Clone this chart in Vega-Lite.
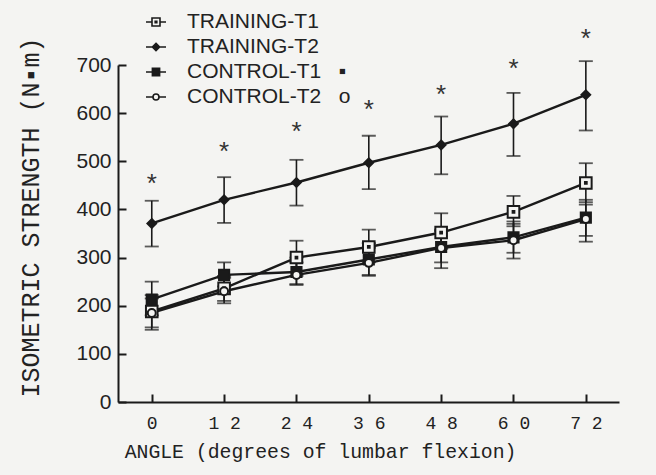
{
  "$schema": "https://vega.github.io/schema/vega-lite/v6.json",
  "autosize": {"type": "none"},
  "padding": {"left": 118, "top": 65, "right": 37, "bottom": 73},
  "width": 501,
  "height": 337,
  "background": "#f4f4f2",
  "config": {
    "view": {"stroke": null},
    "axis": {
      "domainColor": "#1a1a1a", "domainWidth": 2,
      "tickColor": "#1a1a1a", "tickWidth": 2, "tickSize": -8,
      "grid": false, "labelColor": "#222", "titleColor": "#222",
      "titleFontWeight": "normal"
    },
    "axisY": {
      "labelFont": "Liberation Sans", "labelFontSize": 21, "labelPadding": 15,
      "titleFont": "Liberation Mono", "titleFontSize": 25, "titlePadding": 32, "tickCount": 7
    },
    "axisX": {
      "labelFont": "Liberation Mono", "labelFontSize": 18, "labelPadding": 20,
      "titleFont": "Liberation Mono", "titleFontSize": 19.8, "titlePadding": 9
    }
  },
  "resolve": {
    "scale": {"shape": "independent", "fill": "independent", "stroke": "independent"},
    "legend": {"shape": "independent", "fill": "independent", "stroke": "independent"}
  },
  "datasets": {
    "main": [
      {"series": "TRAINING-T1", "angle": 0, "mean": 188, "lo": 155, "hi": 222},
      {"series": "TRAINING-T1", "angle": 12, "mean": 236, "lo": 210, "hi": 262},
      {"series": "TRAINING-T1", "angle": 24, "mean": 300, "lo": 262, "hi": 335},
      {"series": "TRAINING-T1", "angle": 36, "mean": 322, "lo": 290, "hi": 358},
      {"series": "TRAINING-T1", "angle": 48, "mean": 352, "lo": 318, "hi": 392},
      {"series": "TRAINING-T1", "angle": 60, "mean": 395, "lo": 365, "hi": 428},
      {"series": "TRAINING-T1", "angle": 72, "mean": 455, "lo": 415, "hi": 496},
      {"series": "TRAINING-T2", "angle": 0, "mean": 371, "lo": 323, "hi": 418},
      {"series": "TRAINING-T2", "angle": 12, "mean": 420, "lo": 372, "hi": 467},
      {"series": "TRAINING-T2", "angle": 24, "mean": 456, "lo": 408, "hi": 503},
      {"series": "TRAINING-T2", "angle": 36, "mean": 497, "lo": 442, "hi": 553},
      {"series": "TRAINING-T2", "angle": 48, "mean": 534, "lo": 473, "hi": 593},
      {"series": "TRAINING-T2", "angle": 60, "mean": 578, "lo": 511, "hi": 642},
      {"series": "TRAINING-T2", "angle": 72, "mean": 638, "lo": 564, "hi": 708},
      {"series": "CONTROL-T1", "angle": 0, "mean": 213, "lo": 180, "hi": 250},
      {"series": "CONTROL-T1", "angle": 12, "mean": 264, "lo": 240, "hi": 290},
      {"series": "CONTROL-T1", "angle": 24, "mean": 270, "lo": 245, "hi": 300},
      {"series": "CONTROL-T1", "angle": 36, "mean": 296, "lo": 264, "hi": 330},
      {"series": "CONTROL-T1", "angle": 48, "mean": 322, "lo": 290, "hi": 355},
      {"series": "CONTROL-T1", "angle": 60, "mean": 342, "lo": 310, "hi": 375},
      {"series": "CONTROL-T1", "angle": 72, "mean": 383, "lo": 345, "hi": 420},
      {"series": "CONTROL-T2", "angle": 0, "mean": 185, "lo": 150, "hi": 215},
      {"series": "CONTROL-T2", "angle": 12, "mean": 230, "lo": 205, "hi": 258},
      {"series": "CONTROL-T2", "angle": 24, "mean": 264, "lo": 243, "hi": 290},
      {"series": "CONTROL-T2", "angle": 36, "mean": 289, "lo": 262, "hi": 320},
      {"series": "CONTROL-T2", "angle": 48, "mean": 320, "lo": 278, "hi": 358},
      {"series": "CONTROL-T2", "angle": 60, "mean": 336, "lo": 298, "hi": 370},
      {"series": "CONTROL-T2", "angle": 72, "mean": 380, "lo": 333, "hi": 410}
    ],
    "stars": [
      {"angle": 0, "y": 467},
      {"angle": 12, "y": 534},
      {"angle": 24, "y": 575},
      {"angle": 36, "y": 621},
      {"angle": 48, "y": 652},
      {"angle": 60, "y": 706},
      {"angle": 72, "y": 769}
    ]
  },
  "encoding": {
    "x": {
      "field": "angle", "type": "quantitative",
      "scale": {"domain": [-5.6, 77.5], "nice": false, "zero": false},
      "axis": {
        "values": [0, 12, 24, 36, 48, 60, 72],
        "labelExpr": "join(split(datum.label, ''), ' ')",
        "title": "ANGLE (degrees of lumbar flexion)",
        "titleX": 202
      }
    }
  },
  "layer": [
    {
      "data": {"name": "main"},
      "mark": {"type": "rule", "color": "#1a1a1a", "strokeWidth": 1.6},
      "encoding": {
        "y": {"field": "lo", "type": "quantitative", "scale": {"domain": [0, 700], "nice": false}, "title": "ISOMETRIC STRENGTH (N▪m)", "axis": {"titleY": 152}},
        "y2": {"field": "hi"}
      }
    },
    {
      "data": {"name": "main"},
      "mark": {"type": "tick", "orient": "horizontal", "color": "#1a1a1a", "size": 14, "thickness": 1.8},
      "encoding": {
        "y": {"field": "lo", "type": "quantitative", "title": "ISOMETRIC STRENGTH (N▪m)"}
      }
    },
    {
      "data": {"name": "main"},
      "mark": {"type": "tick", "orient": "horizontal", "color": "#1a1a1a", "size": 14, "thickness": 1.8},
      "encoding": {
        "y": {"field": "hi", "type": "quantitative", "title": "ISOMETRIC STRENGTH (N▪m)"}
      }
    },
    {
      "data": {"name": "main"},
      "mark": {"type": "line", "color": "#1a1a1a", "strokeWidth": 2.4},
      "encoding": {
        "y": {"field": "mean", "type": "quantitative", "title": "ISOMETRIC STRENGTH (N▪m)"},
        "detail": {"field": "series"}
      }
    },
    {
      "data": {"name": "main"},
      "mark": {"type": "point", "size": 210, "stroke": "#1a1a1a", "strokeWidth": 2, "opacity": 1, "filled": true},
      "encoding": {
        "y": {"field": "mean", "type": "quantitative", "title": "ISOMETRIC STRENGTH (N▪m)"},
        "fill": {
          "field": "series", "type": "nominal",
          "scale": {"domain": ["TRAINING-T1", "TRAINING-T2", "CONTROL-T1", "CONTROL-T2"], "range": ["#f4f4f2", "#1a1a1a", "#1a1a1a", "#f4f4f2"]},
          "legend": null
        },
        "shape": {
          "field": "series", "type": "nominal",
          "scale": {
            "domain": ["TRAINING-T1", "TRAINING-T2", "CONTROL-T1", "CONTROL-T2"],
            "range": [
              "M-0.8,-0.8H0.8V0.8H-0.8ZM-0.12,-0.12H0.12V0.12H-0.12Z",
              "M0,-0.6L0.6,0L0,0.6L-0.6,0Z",
              "M-0.7,-0.7H0.7V0.7H-0.7Z",
              "M-0.55,0A0.55,0.55 0 1,0 0.55,0A0.55,0.55 0 1,0 -0.55,0Z"
            ]
          },
          "legend": null
        }
      }
    },
    {
      "data": {"name": "main"},
      "transform": [{"filter": "datum.angle < 0"}],
      "mark": {"type": "point", "size": 400, "strokeWidth": 1.6, "opacity": 1, "filled": true},
      "encoding": {
        "y": {"field": "mean", "type": "quantitative", "title": "ISOMETRIC STRENGTH (N▪m)"},
        "fill": {
          "field": "series", "type": "nominal",
          "scale": {"domain": ["TRAINING-T1", "TRAINING-T2", "CONTROL-T1", "CONTROL-T2"], "range": ["#f4f4f2", "#1a1a1a", "#1a1a1a", "#f4f4f2"]},
          "legend": {"title": null}
        },
        "stroke": {
          "field": "series", "type": "nominal",
          "scale": {"domain": ["TRAINING-T1", "TRAINING-T2", "CONTROL-T1", "CONTROL-T2"], "range": ["#1a1a1a", "#1a1a1a", "#1a1a1a", "#1a1a1a"]},
          "legend": {"title": null}
        },
        "shape": {
          "field": "series", "type": "nominal",
          "scale": {
            "domain": ["TRAINING-T1", "TRAINING-T2", "CONTROL-T1", "CONTROL-T2"],
            "range": [
              "M-1,0H-0.4M0.4,0H1M-0.4,-0.4H0.4V0.4H-0.4ZM-0.08,-0.08H0.08V0.08H-0.08Z",
              "M-1,0H1M0,-0.36L0.36,0L0,0.36L-0.36,0Z",
              "M-1,0H-0.36M0.36,0H1M-0.36,-0.36H0.36V0.36H-0.36Z",
              "M-1,0H-0.3M0.3,0H1M-0.3,0A0.3,0.3 0 1,0 0.3,0A0.3,0.3 0 1,0 -0.3,0Z"
            ]
          },
          "legend": {
            "title": null,
            "orient": "none",
            "legendX": 27,
            "legendY": -54,
            "padding": 0,
            "rowPadding": 4,
            "labelOffset": 20,
            "symbolSize": 400,
            "symbolStrokeWidth": 1.6,
            "labelFont": "Liberation Sans",
            "labelFontSize": 21,
            "labelColor": "#222",
            "labelLimit": 400,
            "labelExpr": "datum.label === 'CONTROL-T1' ? 'CONTROL-T1\u00a0\u00a0\u00a0▪' : datum.label === 'CONTROL-T2' ? 'CONTROL-T2\u00a0\u00a0\u00a0o' : datum.label"
          }
        }
      }
    },
    {
      "data": {"name": "stars"},
      "mark": {"type": "text", "text": "*", "font": "Liberation Sans", "fontSize": 26, "color": "#333", "baseline": "alphabetic", "dy": 15},
      "encoding": {
        "y": {"field": "y", "type": "quantitative", "title": "ISOMETRIC STRENGTH (N▪m)"}
      }
    }
  ]
}
